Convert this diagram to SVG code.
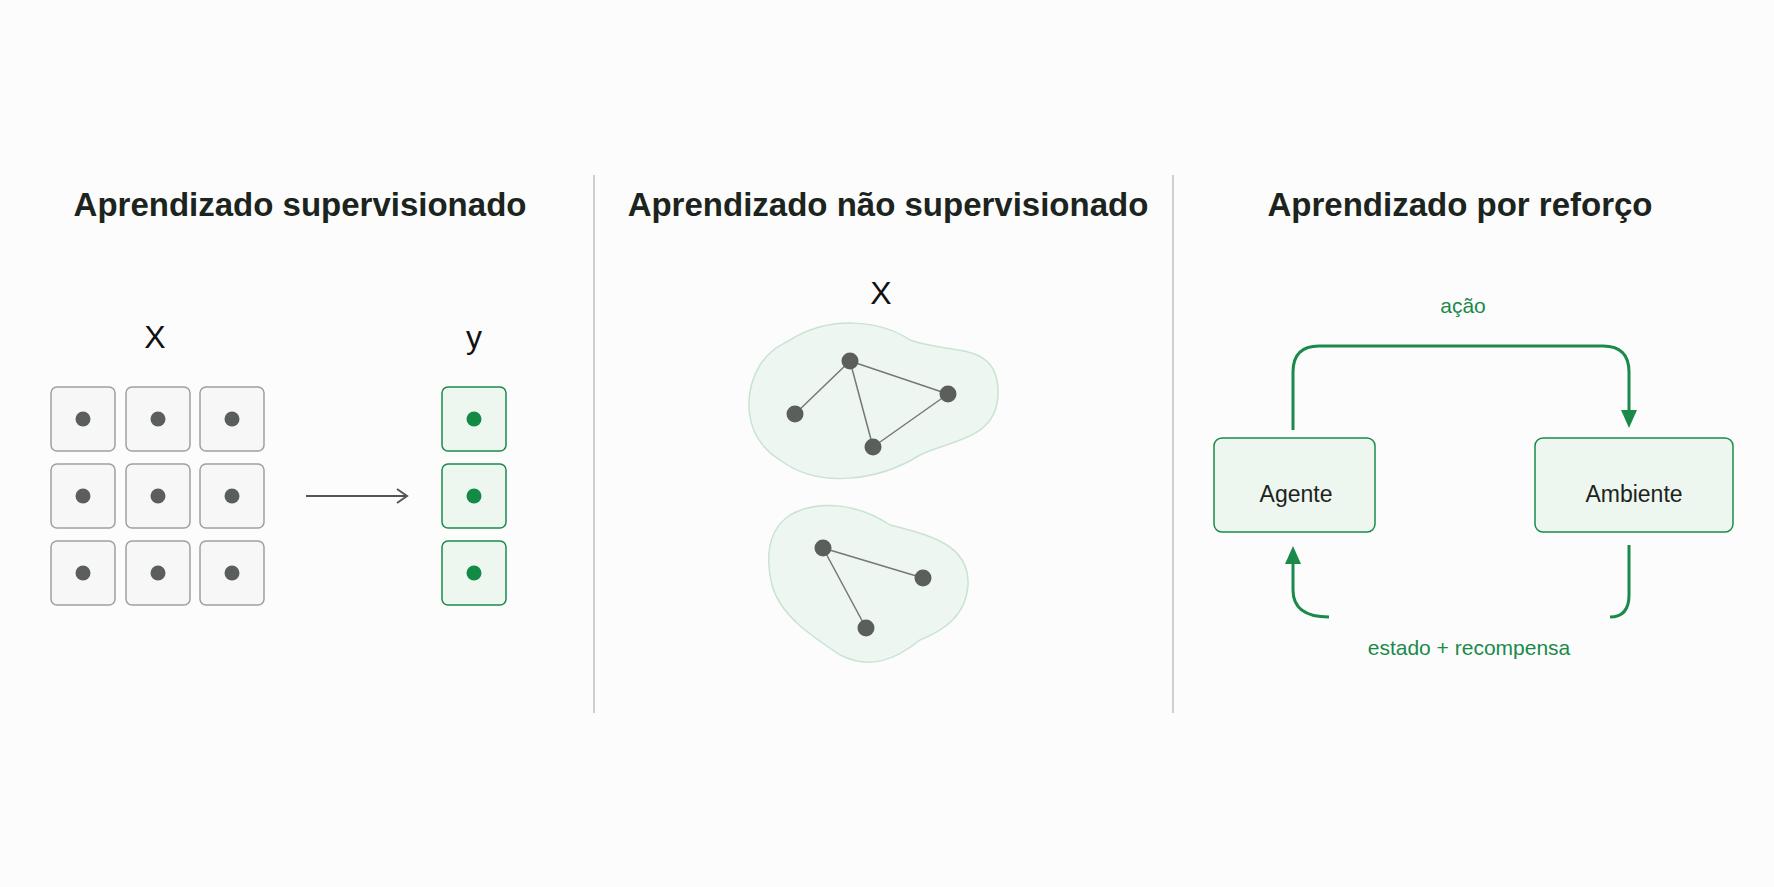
<svg xmlns="http://www.w3.org/2000/svg" width="1774" height="887" viewBox="0 0 1774 887">
<style>
.t{font-family:"Liberation Sans",Arial,sans-serif;font-weight:bold;font-size:33px;fill:#1c2420;text-anchor:middle}
.v{font-family:"Liberation Sans",Arial,sans-serif;font-size:32px;fill:#111;text-anchor:middle}
.g{font-family:"Liberation Sans",Arial,sans-serif;font-size:21px;fill:#1a8a4a;text-anchor:middle}
.n{font-family:"Liberation Sans",Arial,sans-serif;font-size:23px;fill:#1c2420;text-anchor:middle}
.cell{fill:#f7f7f7;stroke:#a0a0a0;stroke-width:1.5}
.gcell{fill:#eef6f0;stroke:#1a8a4a;stroke-width:1.5}
.d{fill:#5a5f5c}
.gd{fill:#138a45}
.blob{fill:#eef6f1;stroke:#c9e3d3;stroke-width:1.5}
.e{stroke:#777;stroke-width:1.5}
.box{fill:#eef6f0;stroke:#1a8a4a;stroke-width:1.5}
.ga{fill:none;stroke:#1a8a4a;stroke-width:3}
</style>
<defs>
<marker id="ag" markerWidth="20" markerHeight="20" refX="4" refY="10" orient="auto" markerUnits="userSpaceOnUse"><path d="M0,2 L18,10 L0,18 z" fill="#1a8a4a"/></marker>
<marker id="ak" markerWidth="14" markerHeight="16" refX="12" refY="8" orient="auto" markerUnits="userSpaceOnUse"><path d="M2,1 L12,8 L2,15" fill="none" stroke="#555" stroke-width="2"/></marker>
</defs>
<rect width="1774" height="887" fill="#fcfcfc"/>
<line x1="594" y1="175" x2="594" y2="713" stroke="#cfcfcf" stroke-width="2"/>
<line x1="1173" y1="175" x2="1173" y2="713" stroke="#cfcfcf" stroke-width="2"/>
<text class="t" x="300" y="216">Aprendizado supervisionado</text>
<text class="t" x="888" y="216">Aprendizado não supervisionado</text>
<text class="t" x="1460" y="216">Aprendizado por reforço</text>

<g id="supervised">
<text class="v" x="155" y="348">X</text>
<text class="v" x="474" y="348">y</text>
<g id="gridX">
<rect class="cell" x="51" y="387" width="64" height="64" rx="6"/><rect class="cell" x="126" y="387" width="64" height="64" rx="6"/><rect class="cell" x="200" y="387" width="64" height="64" rx="6"/>
<rect class="cell" x="51" y="464" width="64" height="64" rx="6"/><rect class="cell" x="126" y="464" width="64" height="64" rx="6"/><rect class="cell" x="200" y="464" width="64" height="64" rx="6"/>
<rect class="cell" x="51" y="541" width="64" height="64" rx="6"/><rect class="cell" x="126" y="541" width="64" height="64" rx="6"/><rect class="cell" x="200" y="541" width="64" height="64" rx="6"/>
<circle class="d" cx="83" cy="419" r="7.5"/><circle class="d" cx="158" cy="419" r="7.5"/><circle class="d" cx="232" cy="419" r="7.5"/>
<circle class="d" cx="83" cy="496" r="7.5"/><circle class="d" cx="158" cy="496" r="7.5"/><circle class="d" cx="232" cy="496" r="7.5"/>
<circle class="d" cx="83" cy="573" r="7.5"/><circle class="d" cx="158" cy="573" r="7.5"/><circle class="d" cx="232" cy="573" r="7.5"/>
</g>
<g id="gridY">
<rect class="gcell" x="442" y="387" width="64" height="64" rx="6"/><rect class="gcell" x="442" y="464" width="64" height="64" rx="6"/><rect class="gcell" x="442" y="541" width="64" height="64" rx="6"/>
<circle class="gd" cx="474" cy="419" r="7.5"/><circle class="gd" cx="474" cy="496" r="7.5"/><circle class="gd" cx="474" cy="573" r="7.5"/>
</g>
</g>

<g id="unsupervised">
<text class="v" x="881" y="304">X</text>
<g id="cluster1">
<path class="blob" d="M790,340 C830,315 880,320 910,340 C950,355 1000,340 998,395 C996,440 950,440 920,455 C880,480 820,490 780,460 C740,435 745,390 760,365 C770,350 778,347 790,340 z"/>
<line class="e" x1="850" y1="361" x2="795" y2="414"/><line class="e" x1="850" y1="361" x2="948" y2="394"/><line class="e" x1="850" y1="361" x2="873" y2="447"/><line class="e" x1="873" y1="447" x2="948" y2="394"/>
<circle class="d" cx="850" cy="361" r="8.5"/><circle class="d" cx="795" cy="414" r="8.5"/><circle class="d" cx="948" cy="394" r="8.5"/><circle class="d" cx="873" cy="447" r="8.5"/>
</g>
<g id="cluster2">
<path class="blob" d="M790,515 C820,498 860,505 890,525 C930,535 970,545 968,585 C966,615 945,630 920,640 C895,660 870,670 840,655 C810,635 780,615 772,585 C765,555 768,530 790,515 z"/>
<line class="e" x1="823" y1="548" x2="923" y2="578"/><line class="e" x1="823" y1="548" x2="866" y2="628"/>
<circle class="d" cx="823" cy="548" r="8.5"/><circle class="d" cx="923" cy="578" r="8.5"/><circle class="d" cx="866" cy="628" r="8.5"/>
</g>
</g>

<g id="rl-agente"><rect class="box" x="1214" y="438" width="161" height="94" rx="8"/><text class="n" x="1296" y="502">Agente</text></g>
<g id="rl-ambiente"><rect class="box" x="1535" y="438" width="198" height="94" rx="8"/><text class="n" x="1634" y="502">Ambiente</text></g>

<g id="connectors">
<line x1="306" y1="496" x2="407" y2="496" stroke="#555" stroke-width="2" marker-end="url(#ak)"/>
<path class="ga" d="M1293,430 L1293,372 Q1293,346 1319,346 L1603,346 Q1629,346 1629,372 L1629,414" marker-end="url(#ag)"/>
<path class="ga" d="M1629,545 L1629,595 Q1629,617 1610,617"/>
<path class="ga" d="M1329,617 Q1293,617 1293,590 L1293,560" marker-end="url(#ag)"/>
<text class="g" x="1463" y="313">ação</text>
<text class="g" x="1469" y="655">estado + recompensa</text>
</g>
</svg>
